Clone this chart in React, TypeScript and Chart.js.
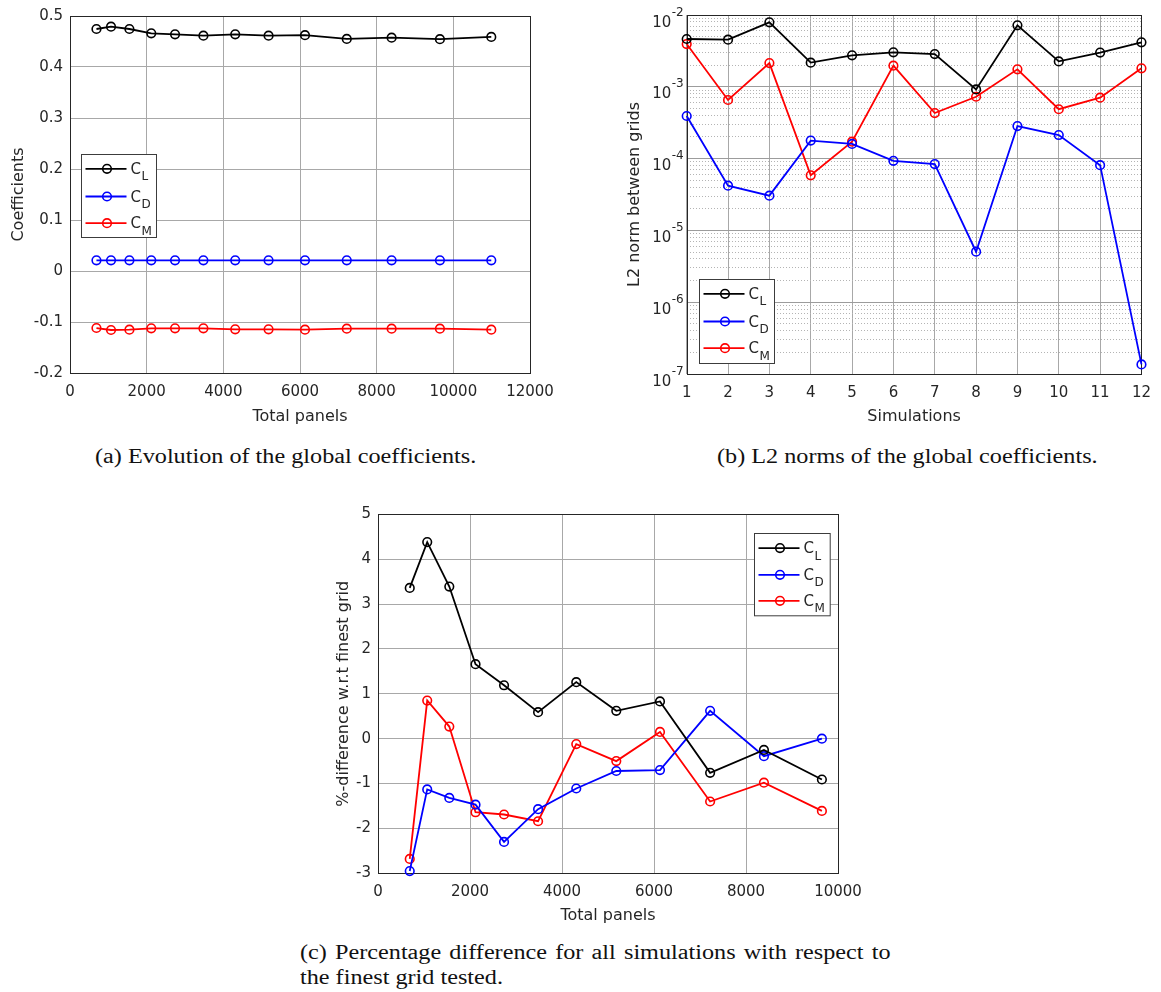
import React, { useEffect, useRef } from 'react';
import { Chart, registerables } from 'chart.js';

Chart.register(...registerables);

// ---------- data ----------
// Mesh sizes (total panels) of the successive grids
const totalPanels = [690, 1070, 1550, 2120, 2740, 3480, 4310, 5180, 6130, 7220, 8390, 9650, 10990];

// (a) global coefficients per grid
const coefCL = [0.4745, 0.479, 0.4745, 0.466, 0.464, 0.4615, 0.464, 0.4615, 0.4625, 0.455, 0.4575, 0.4545, 0.459];
const coefCD = [0.021, 0.021, 0.021, 0.021, 0.021, 0.021, 0.021, 0.021, 0.021, 0.021, 0.021, 0.021, 0.021];
const coefCM = [-0.1118, -0.1157, -0.115, -0.1124, -0.1124, -0.1124, -0.1144, -0.1144, -0.115, -0.1131, -0.1131, -0.1131, -0.115];

// (b) L2 norm between consecutive grids
const simulations = [1, 2, 3, 4, 5, 6, 7, 8, 9, 10, 11, 12];
const normCL = [4.63e-3, 4.53e-3, 7.9e-3, 2.17e-3, 2.74e-3, 3.02e-3, 2.86e-3, 9.2e-4, 7.17e-3, 2.26e-3, 3.0e-3, 4.16e-3];
const normCD = [3.92e-4, 4.2e-5, 3.05e-5, 1.78e-4, 1.6e-4, 9.3e-5, 8.4e-5, 5.05e-6, 2.84e-4, 2.13e-4, 8.1e-5, 1.36e-7];
const normCM = [3.94e-3, 6.55e-4, 2.14e-3, 5.85e-5, 1.72e-4, 1.97e-3, 4.31e-4, 7.27e-4, 1.75e-3, 4.87e-4, 7.05e-4, 1.81e-3];
const normDecades = [-7, -6, -5, -4, -3, -2];

// (c) percentage difference with respect to the finest grid
const diffPanels = [690, 1070, 1550, 2120, 2740, 3480, 4310, 5180, 6130, 7220, 8390, 9650];
const diffCL = [3.36, 4.38, 3.39, 1.66, 1.19, 0.59, 1.26, 0.62, 0.83, -0.76, -0.25, -0.91];
const diffCD = [-2.95, -1.13, -1.32, -1.47, -2.3, -1.57, -1.11, -0.72, -0.7, 0.62, -0.39, 0.0];
const diffCM = [-2.68, 0.85, 0.27, -1.64, -1.69, -1.84, -0.12, -0.5, 0.15, -1.4, -0.98, -1.61];

const seriesNames = ['C_L', 'C_D', 'C_M'];
const seriesColors = ['#000000', '#0000ff', '#ff0000'];

// ---------- styling ----------
const FONT = '"DejaVu Sans", "Liberation Sans", sans-serif';
const SERIF = '"Liberation Serif", "DejaVu Serif", serif';
const TEXT = '#262626';
const GRID = '#a8a8a8';
const GRID_MINOR = '#b4b4b4';
const tickFont = { family: FONT, size: 15 };
const titleFont = { family: FONT, size: 16 };

const isDecade = (v: number) => {
  const l = Math.log10(v);
  return Math.abs(l - Math.round(l)) < 1e-9;
};

function makeDatasets(xs: number[], series: number[][]) {
  return series.map((ys, i) => ({
    label: seriesNames[i],
    data: xs.map((x, j) => ({ x, y: ys[j] })),
    borderColor: seriesColors[i],
    backgroundColor: 'transparent',
    borderWidth: 1.8,
    pointRadius: 4.3,
    pointHoverRadius: 4.3,
    pointBorderWidth: 1.6,
    pointBackgroundColor: 'transparent',
    pointBorderColor: seriesColors[i],
    clip: false,
    tension: 0,
  }));
}

function linearAxis(o: any) {
  return {
    type: 'linear',
    min: o.min,
    max: o.max,
    ticks: {
      stepSize: o.step,
      autoSkip: false,
      maxRotation: 0,
      font: tickFont,
      color: TEXT,
      padding: o.pad,
      callback: o.fmt,
    },
    grid: { color: GRID, lineWidth: 1, drawTicks: false },
    border: { display: false },
    title: { display: true, text: o.title, font: titleFont, color: TEXT, padding: o.titlePad },
    afterFit: (s: any) => {
      if (o.horizontal) s.height = o.size;
      else s.width = o.size;
    },
  };
}

// Axes box on all four sides
const framePlugin = {
  id: 'frame',
  beforeDatasetsDraw(chart: any) {
    const { ctx, chartArea: a } = chart;
    ctx.save();
    ctx.strokeStyle = TEXT;
    ctx.lineWidth = 1;
    const l = Math.round(a.left) + 0.5;
    const t = Math.round(a.top) + 0.5;
    const r = Math.round(a.right) + 0.5;
    const b = Math.round(a.bottom) + 0.5;
    ctx.strokeRect(l, t, r - l, b - t);
    ctx.restore();
  },
};

// Boxed legend with subscripted coefficient names
const coefLegend = {
  id: 'coefLegend',
  afterDatasetsDraw(chart: any, _args: any, opts: any) {
    const { ctx, chartArea: a } = chart;
    const x0 = Math.round(a.left + opts.dx) + 0.5;
    const y0 = Math.round(a.top + opts.dy) + 0.5;
    ctx.save();
    ctx.fillStyle = '#ffffff';
    ctx.fillRect(x0, y0, opts.w, opts.h);
    ctx.strokeStyle = '#3c3c3c';
    ctx.lineWidth = 1;
    ctx.strokeRect(x0, y0, opts.w, opts.h);
    chart.data.datasets.forEach((ds: any, i: number) => {
      const y = y0 + opts.rows[i];
      ctx.strokeStyle = ds.borderColor;
      ctx.lineWidth = 1.8;
      ctx.beginPath();
      ctx.moveTo(x0 + 4, y);
      ctx.lineTo(x0 + 45, y);
      ctx.stroke();
      ctx.lineWidth = 1.6;
      ctx.beginPath();
      ctx.arc(x0 + 25.5, y, 4.3, 0, Math.PI * 2);
      ctx.stroke();
      const [main, sub] = String(ds.label).split('_');
      ctx.fillStyle = TEXT;
      ctx.textAlign = 'left';
      ctx.textBaseline = 'alphabetic';
      ctx.font = `15px ${FONT}`;
      ctx.fillText(main, x0 + 49, y + 5);
      const mw = ctx.measureText(main).width;
      ctx.font = `12px ${FONT}`;
      ctx.fillText(sub, x0 + 49 + mw + 0.5, y + 11.5);
    });
    ctx.restore();
  },
};

// Powers-of-ten labels with raised exponents for the log axis
const logTickLabels = {
  id: 'logTickLabels',
  afterDraw(chart: any) {
    const s = chart.scales.y;
    const { ctx } = chart;
    ctx.save();
    ctx.fillStyle = TEXT;
    ctx.textBaseline = 'alphabetic';
    ctx.textAlign = 'right';
    for (const e of normDecades) {
      const y = s.getPixelForValue(Math.pow(10, e));
      const exp = String(e);
      ctx.font = `12px ${FONT}`;
      const ew = ctx.measureText(exp).width;
      const xr = s.right - 3;
      ctx.fillText(exp, xr, y + 0.5);
      ctx.font = `15px ${FONT}`;
      ctx.fillText('10', xr - ew - 0.5, y + 11.5);
    }
    ctx.restore();
  },
};

const baseOptions = {
  responsive: false,
  animation: false,
  events: [],
};

const buildCoefficients = () => ({
  type: 'line',
  data: { datasets: makeDatasets(totalPanels, [coefCL, coefCD, coefCM]) },
  options: {
    ...baseOptions,
    layout: { padding: { top: 15, right: 50, bottom: 0, left: 0 } },
    plugins: {
      legend: { display: false },
      tooltip: { enabled: false },
      coefLegend: { dx: 11.3, dy: 138, w: 75, h: 83, rows: [14.3, 42, 68.7] },
    },
    scales: {
      x: linearAxis({
        min: 0, max: 12000, step: 2000, title: 'Total panels', size: 67, pad: 10,
        titlePad: { top: 0, bottom: 14 }, horizontal: true, fmt: (v: number) => String(v),
      }),
      y: linearAxis({
        min: -0.2, max: 0.5, step: 0.1, title: 'Coefficients', size: 70, pad: 7,
        titlePad: { top: 9, bottom: 0 }, horizontal: false,
        fmt: (v: number) => String(Math.round(v * 10) / 10),
      }),
    },
  },
  plugins: [framePlugin, coefLegend],
});

const buildNorms = () => ({
  type: 'line',
  data: { datasets: makeDatasets(simulations, [normCL, normCD, normCM]) },
  options: {
    ...baseOptions,
    layout: { padding: { top: 15, right: 15, bottom: 0, left: 0 } },
    plugins: {
      legend: { display: false },
      tooltip: { enabled: false },
      coefLegend: { dx: 12, dy: 264, w: 75, h: 84, rows: [14.3, 42, 68.7] },
    },
    scales: {
      x: linearAxis({
        min: 1, max: 12, step: 1, title: 'Simulations', size: 66, pad: 10,
        titlePad: { top: 0, bottom: 14 }, horizontal: true, fmt: (v: number) => String(v),
      }),
      y: {
        type: 'logarithmic',
        min: Math.pow(10, normDecades[0]),
        max: Math.pow(10, normDecades[normDecades.length - 1]),
        afterBuildTicks: (scale: any) => {
          const ticks: any[] = [];
          for (let k = 0; k < normDecades.length - 1; k++) {
            for (let m = 1; m < 10; m++) {
              ticks.push({ value: m * Math.pow(10, normDecades[k]), major: m === 1 });
            }
          }
          ticks.push({ value: Math.pow(10, normDecades[normDecades.length - 1]), major: true });
          scale.ticks = ticks;
        },
        ticks: { display: false },
        grid: {
          drawTicks: false,
          lineWidth: 1,
          color: (c: any) => (c.tick && !isDecade(c.tick.value) ? GRID_MINOR : '#9c9c9c'),
        },
        border: {
          display: false,
          dash: (c: any) => (c.tick && !isDecade(c.tick.value) ? [1, 2] : []),
        },
        title: {
          display: true, text: 'L2 norm between grids', font: titleFont, color: TEXT,
          padding: { top: 45, bottom: 0 },
        },
        afterFit: (s: any) => {
          s.width = 106.7;
        },
      },
    },
  },
  plugins: [framePlugin, coefLegend, logTickLabels],
});

const buildDifference = () => ({
  type: 'line',
  data: { datasets: makeDatasets(diffPanels, [diffCL, diffCD, diffCM]) },
  options: {
    ...baseOptions,
    layout: { padding: { top: 19.3, right: 52, bottom: 0, left: 0 } },
    plugins: {
      legend: { display: false },
      tooltip: { enabled: false },
      coefLegend: { dx: 376.3, dy: 18.4, w: 75.7, h: 82.3, rows: [14.6, 41.3, 67.3] },
    },
    scales: {
      x: linearAxis({
        min: 0, max: 10000, step: 2000, title: 'Total panels', size: 61.7, pad: 10,
        titlePad: { top: 0, bottom: 10 }, horizontal: true, fmt: (v: number) => String(v),
      }),
      y: linearAxis({
        min: -3, max: 5, step: 1, title: '%-difference w.r.t finest grid', size: 88, pad: 7,
        titlePad: { top: 44, bottom: 0 }, horizontal: false, fmt: (v: number) => String(v),
      }),
    },
  },
  plugins: [framePlugin, coefLegend],
});

type PanelProps = { left: number; top: number; width: number; height: number; build: () => any };

function ChartPanel({ left, top, width, height, build }: PanelProps) {
  const ref = useRef<HTMLCanvasElement>(null);
  useEffect(() => {
    const canvas = ref.current;
    if (!canvas) return;
    const chart = new Chart(canvas, build());
    return () => chart.destroy();
  }, [build]);
  return (
    <div style={{ position: 'absolute', left, top, width, height }}>
      <canvas ref={ref} width={width} height={height} style={{ display: 'block' }} />
    </div>
  );
}

const captionStyle = (left: number, top: number): React.CSSProperties => ({
  position: 'absolute',
  left,
  top,
  fontFamily: SERIF,
  fontSize: 20,
  lineHeight: '24px',
  color: '#111',
  whiteSpace: 'nowrap',
  transform: 'scaleX(1.21)',
  transformOrigin: 'left center',
});

export default function App() {
  return (
    <div style={{ position: 'absolute', left: 0, top: 0, width: 1161, height: 992, background: '#fff', overflow: 'hidden' }}>
      <ChartPanel left={0} top={0} width={580} height={440} build={buildCoefficients} />
      <ChartPanel left={580} top={0} width={581} height={440} build={buildNorms} />
      <ChartPanel left={290} top={495} width={600} height={440} build={buildDifference} />
      <div style={captionStyle(95, 444)}>(a) Evolution of the global coefficients.</div>
      <div style={captionStyle(717, 444)}>(b) L2 norms of the global coefficients.</div>
      <div style={{ ...captionStyle(300, 940), width: 488, textAlign: 'justify', textAlignLast: 'justify' }}>
        (c) Percentage difference for all simulations with respect to
      </div>
      <div style={captionStyle(300, 965)}>the finest grid tested.</div>
    </div>
  );
}
